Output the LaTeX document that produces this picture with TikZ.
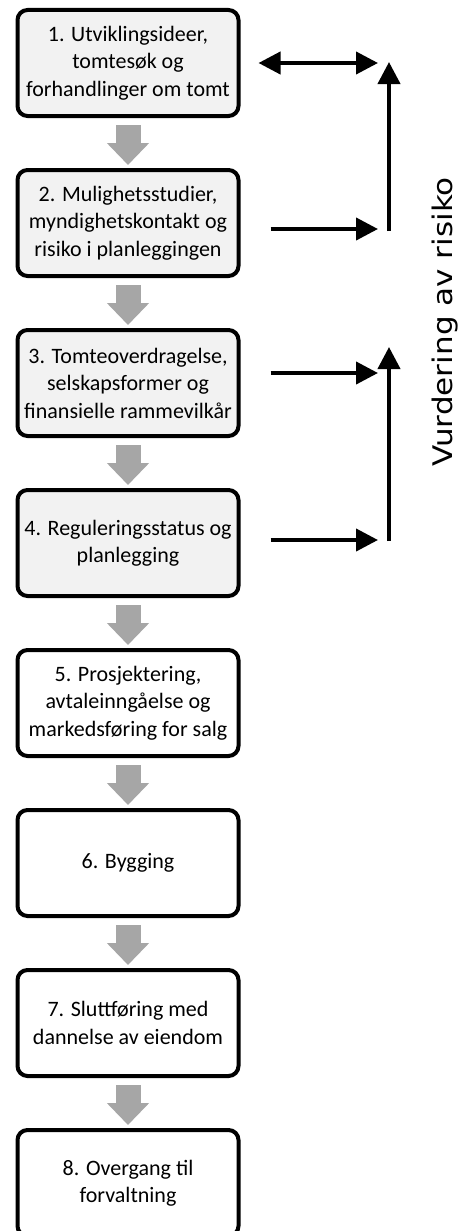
\documentclass[tikz,border=0pt]{standalone}
\usepackage{fontspec}
\setmainfont{Carlito}
\newfontfamily\risikofont{DejaVu Sans}
\usetikzlibrary{arrows.meta}

\begin{document}
\begin{tikzpicture}[x=1pt,y=-1pt,>={Triangle[length=22pt,width=22pt]},
    phase/.style={draw,line width=4pt,rounded corners=10pt,minimum width=221pt,minimum height=106pt,inner sep=0pt,align=center,font=\fontsize{22}{27.5}\selectfont},
    early/.style={phase,fill=black!5},
    late/.style={phase,fill=white},
    flow/.style={draw=black!35,line width=25pt,-{Triangle[length=22pt,width=41pt]}},
    risk/.style={line width=4pt}]

    \useasboundingbox (0,0) rectangle (465,1231);

    \node[early] (phaseOne) at (128,63) {1. Utviklingsideer,\\tomtesøk og\\forhandlinger om tomt};
    \node[early] (phaseTwo) at (128,223) {2. Mulighetsstudier,\\myndighetskontakt og\\risiko i planleggingen};
    \node[early] (phaseThree) at (128,383) {3. Tomteoverdragelse,\\selskapsformer og\\finansielle rammevilkår};
    \node[early] (phaseFour) at (128,543) {4. Reguleringsstatus og\\planlegging};
    \node[late] (phaseFive) at (128,703) {5. Prosjektering,\\avtaleinngåelse og\\markedsføring for salg};
    \node[late] (phaseSix) at (128,863) {6. Bygging};
    \node[late] (phaseSeven) at (128,1023) {7. Sluttføring med\\dannelse av eiendom};
    \node[late] (phaseEight) at (128,1183) {8. Overgang til\\forvaltning};

    \draw[flow] ([yshift=-7pt]phaseOne.south) -- ([yshift=3pt]phaseTwo.north);
    \draw[flow] ([yshift=-7pt]phaseTwo.south) -- ([yshift=3pt]phaseThree.north);
    \draw[flow] ([yshift=-7pt]phaseThree.south) -- ([yshift=3pt]phaseFour.north);
    \draw[flow] ([yshift=-7pt]phaseFour.south) -- ([yshift=3pt]phaseFive.north);
    \draw[flow] ([yshift=-7pt]phaseFive.south) -- ([yshift=3pt]phaseSix.north);
    \draw[flow] ([yshift=-7pt]phaseSix.south) -- ([yshift=3pt]phaseSeven.north);
    \draw[flow] ([yshift=-7pt]phaseSeven.south) -- ([yshift=3pt]phaseEight.north);

    \coordinate (riskOneTop) at (389,62);
    \coordinate (riskOneBottom) at (389,231);
    \coordinate (riskTwoTop) at (389,347);
    \coordinate (riskTwoBottom) at (389,541);

    \coordinate (entryOne) at (378,63);
    \coordinate (entryTwo) at (378,229);
    \coordinate (entryThree) at (378,373);
    \coordinate (entryFour) at (378,540);

    \draw[risk,<->] ([xshift=18pt]phaseOne.east) -- (entryOne);
    \draw[risk,->] ([xshift=30pt,yshift=-6pt]phaseTwo.east) -- (entryTwo);
    \draw[risk,->] ([xshift=30pt,yshift=10pt]phaseThree.east) -- (entryThree);
    \draw[risk,->] ([xshift=30pt,yshift=3pt]phaseFour.east) -- (entryFour);

    \draw[risk,->] (riskOneBottom) -- (riskOneTop);
    \draw[risk,->] (riskTwoBottom) -- (riskTwoTop);

    \node[rotate=90,xscale=1.15,inner sep=0pt,font=\risikofont\fontsize{27}{30}\selectfont] (riskLabel) at (445,322) {Vurdering av risiko};

\end{tikzpicture}
\end{document}
